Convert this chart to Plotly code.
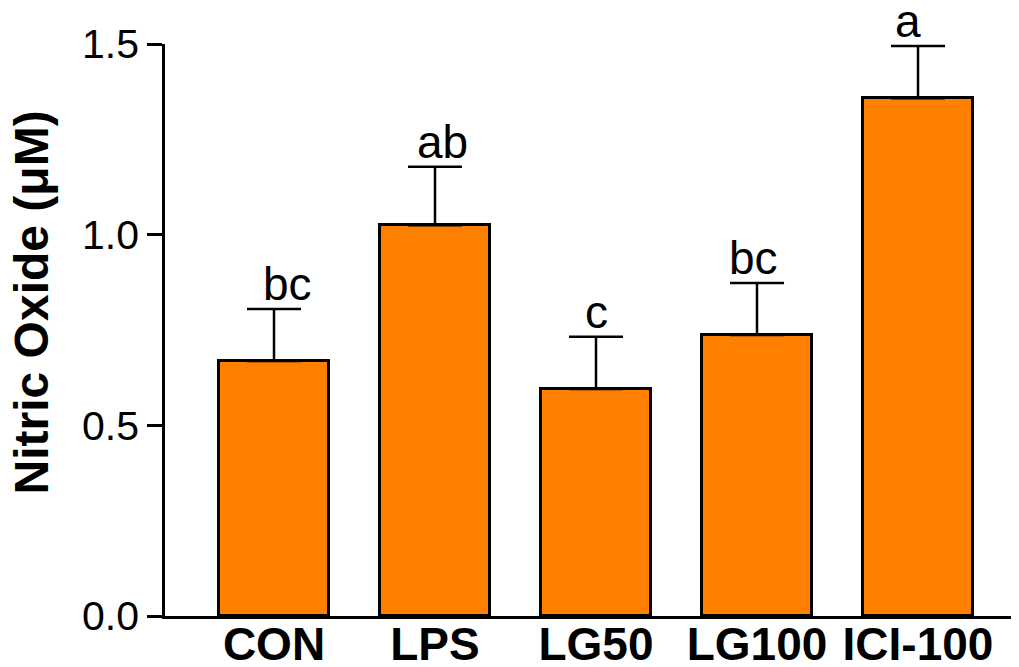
import plotly.graph_objects as go

categories = ["CON", "LPS", "LG50", "LG100", "ICI-100"]
values = [0.669, 1.025, 0.595, 0.737, 1.358]
errors = [0.136, 0.153, 0.137, 0.136, 0.137]
letters = ["bc", "ab", "c", "bc", "a"]
y_ticks = [0.0, 0.5, 1.0, 1.5]
y_tick_labels = ["0.0", "0.5", "1.0", "1.5"]

# horizontal nudges (px) of the significance letters, as placed in the original
letter_xshift = [13, 7, 0, -4, -10]

FONT = "Liberation Sans, Arial, Helvetica, sans-serif"

fig = go.Figure()
fig.add_trace(go.Bar(
    x=list(range(len(categories))),
    y=values,
    width=0.683,
    marker=dict(color="#FF8000", line=dict(color="black", width=3)),
    error_y=dict(type="data", symmetric=False, array=errors,
                 arrayminus=[0] * len(errors),
                 color="black", thickness=2.5, width=27),
    showlegend=False,
))

for i, (v, e, t, dx) in enumerate(zip(values, errors, letters, letter_xshift)):
    fig.add_annotation(x=i, y=v + e, text=t, showarrow=False,
                       xref="x", yref="y", yanchor="bottom", yshift=-3,
                       xshift=dx,
                       font=dict(family=FONT, size=46, color="black"))

fig.add_annotation(text="<b>Nitric Oxide (μM)</b>", textangle=-90,
                   xref="paper", yref="paper", x=-0.1906, y=0.548,
                   xanchor="left", yanchor="middle", showarrow=False,
                   font=dict(family=FONT, size=48, color="black"))

fig.update_layout(
    width=1011, height=659,
    margin=dict(l=157, r=6, t=36, b=51, autoexpand=False),
    paper_bgcolor="white", plot_bgcolor="white",
    bargap=0,
    xaxis=dict(
        range=[-0.677, 4.59],
        tickmode="array",
        tickvals=list(range(len(categories))),
        ticktext=["<b>%s</b>" % c for c in categories],
        tickfont=dict(family=FONT, size=46, color="black"),
        ticklabelstandoff=-14,
        showline=True, linecolor="black", linewidth=2.5,
        ticks="", showgrid=False, zeroline=False, automargin=False,
    ),
    yaxis=dict(
        range=[0, 1.5],
        tickmode="array",
        tickvals=y_ticks,
        ticktext=y_tick_labels,
        tickfont=dict(family=FONT, size=41, color="black"),
        showline=True, linecolor="black", linewidth=2.5,
        ticks="outside", ticklen=15, tickwidth=2.5, tickcolor="black",
        showgrid=False, zeroline=False, automargin=False,
    ),
)

fig.write_html("out.html")
